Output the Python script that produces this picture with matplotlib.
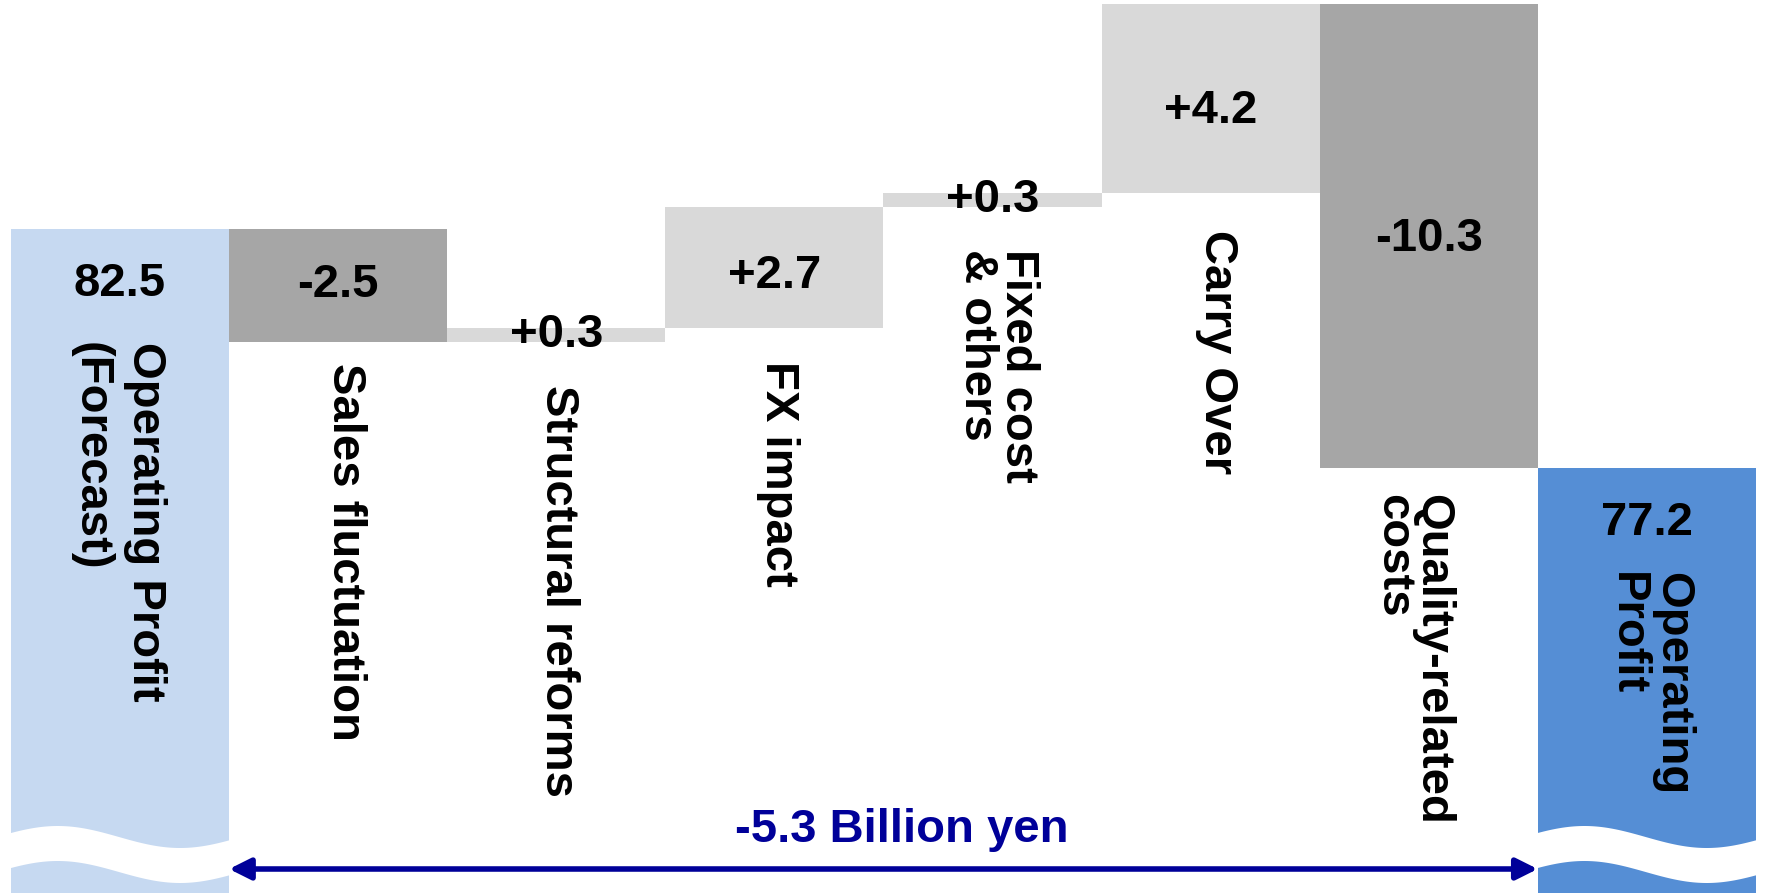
import matplotlib
matplotlib.use('Agg')
import matplotlib.pyplot as plt
import numpy as np
from matplotlib.patches import Polygon, FancyArrowPatch

# ---------------- data ----------------
categories = ["Operating Profit\n(Forecast)", "Sales fluctuation", "Structural reforms",
              "FX impact", "Fixed cost\n& others", "Carry Over",
              "Quality-related\ncosts", "Operating\nProfit"]
start_value = 82.5
deltas = [-2.5, 0.3, 2.7, 0.3, 4.2, -10.3]
end_value = 77.2
value_labels = ["82.5", "-2.5", "+0.3", "+2.7", "+0.3", "+4.2", "-10.3", "77.2"]
total_label = "-5.3 Billion yen"

# ---------------- layout / style ----------------
W, H = 1785, 893
DPI = 100
PX_PER_UNIT = 45.0
Y_TOP = 87.59
Y_BOT = Y_TOP - H / PX_PER_UNIT
BAR_PX = 218.1
X_LEFT = -0.5 - 11 / BAR_PX
X_RIGHT = X_LEFT + W / BAR_PX

c_start = "#C6D9F1"
c_end = "#558ED5"
c_pos = "#D9D9D9"
c_neg = "#A6A6A6"
c_note = "#000099"
FONT = ["Liberation Sans", "DejaVu Sans"]
FS = 34

# label offsets (px): for totals measured from bar top, for deltas from bar bottom
label_offset_px = [113, 21, 43, 33, 42, 37, 26, 104]
label_dx_px = [-2, 7, 2, 4, 5, 6, -16, 3]
label_linespacing = [1.32, 1.2, 1.2, 1.2, 0.92, 1.2, 0.88, 1.05]
value_dy_px = [0, 0, 0, -9, 0, -12, -3, 0]

def px2y(p):
    return Y_TOP - p / PX_PER_UNIT

fig = plt.figure(figsize=(W / DPI, H / DPI), dpi=DPI)
ax = fig.add_axes([0, 0, 1, 1])
ax.set_xlim(X_LEFT, X_RIGHT)
ax.set_ylim(Y_BOT, Y_TOP)
ax.axis('off')

n = len(categories)
x = np.arange(n)

# compute waterfall geometry
bottoms, heights, colors = [], [], []
bottoms.append(0); heights.append(start_value); colors.append(c_start)
level = start_value
for d in deltas:
    new = level + d
    bottoms.append(min(level, new))
    heights.append(abs(d))
    colors.append(c_pos if d > 0 else c_neg)
    level = new
bottoms.append(0); heights.append(end_value); colors.append(c_end)

ax.bar(x, heights, bottom=bottoms, width=1.0, color=colors, edgecolor='none', zorder=2)

tops = [b + h for b, h in zip(bottoms, heights)]

# value labels
for i in range(n):
    if i == 0 or i == n - 1:
        ax.annotate(value_labels[i], xy=(x[i], tops[i]), xytext=(0, -55),
                    textcoords='offset pixels', ha='center', va='center',
                    fontsize=FS, fontweight='bold', family=FONT, zorder=5)
    else:
        ax.annotate(value_labels[i], xy=(x[i], bottoms[i] + heights[i] / 2),
                    xytext=(0, value_dy_px[i]), textcoords='offset pixels',
                    ha='center', va='center',
                    fontsize=FS, fontweight='bold', family=FONT, zorder=5)

# category labels (rotated)
for i in range(n):
    anchor = tops[i] if (i == 0 or i == n - 1) else bottoms[i]
    ax.annotate(categories[i], xy=(x[i], anchor),
                xytext=(label_dx_px[i], -label_offset_px[i]), textcoords='offset pixels',
                rotation=270, ha='center', va='top', multialignment='left',
                linespacing=label_linespacing[i],
                fontsize=FS, fontweight='bold', family=FONT, zorder=5)

# wavy axis break on the two total bars
t = np.linspace(0, 1, 200)
wave_top_px = 837 - 11 * np.cos(2 * np.pi * (t - 0.22) / 1.1)
band_px = 35
for i in (0, n - 1):
    xs = x[i] - 0.5 - 0.01 + t * 1.02
    upper = px2y(wave_top_px)
    lower = px2y(wave_top_px + band_px)
    verts = np.concatenate([np.column_stack([xs, upper]),
                            np.column_stack([xs[::-1], lower[::-1]])])
    ax.add_patch(Polygon(verts, closed=True, facecolor='white', edgecolor='none', zorder=3))

# total-change arrow and note
arr = FancyArrowPatch((x[0] + 0.5, px2y(869)), (x[-1] - 0.5, px2y(869)),
                      arrowstyle='<|-|>,head_length=0.4,head_width=0.2',
                      mutation_scale=32, color=c_note, linewidth=4,
                      shrinkA=0, shrinkB=0, zorder=6)
ax.add_patch(arr)
ax.text(3.585, px2y(830), total_label, ha='center', va='center', color=c_note,
        fontsize=FS, fontweight='bold', family=FONT, zorder=6)

fig.savefig("out.png", dpi=DPI)
